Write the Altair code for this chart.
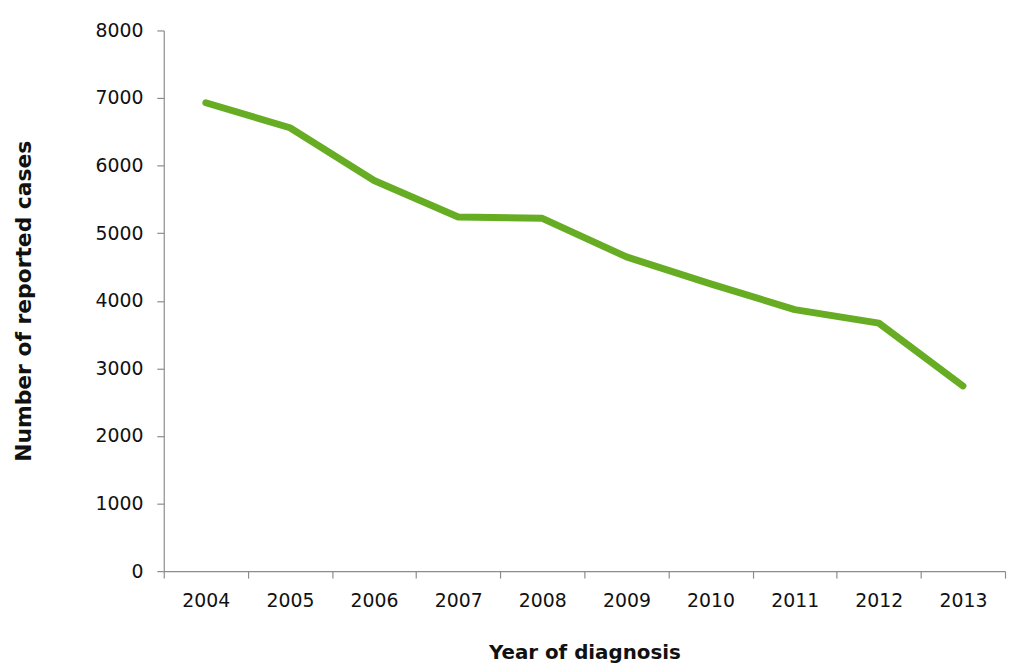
import altair as alt
import pandas as pd

years = ["2004", "2005", "2006", "2007", "2008", "2009", "2010", "2011", "2012", "2013"]
cases = [6930, 6560, 5780, 5240, 5220, 4650, 4250, 3870, 3670, 2740]

df = pd.DataFrame({"year": years, "cases": cases})

chart = alt.Chart(df).mark_line(
    color="#67ad24", strokeWidth=7, strokeCap="round", strokeJoin="round"
).encode(
    x=alt.X("year:O", bandPosition=0.5,
            scale=alt.Scale(type="band", paddingInner=0, paddingOuter=0),
            axis=alt.Axis(title="Year of diagnosis", labelAngle=0, tickBand="extent",
                          labelPadding=14, titlePadding=32, titleFontSize=20)),
    y=alt.Y("cases:Q", scale=alt.Scale(domain=[0, 8000], nice=False),
            axis=alt.Axis(title="Number of reported cases", values=list(range(0, 8001, 1000)),
                          format="d", labelPadding=14, titlePadding=60, titleFontSize=22,
                          grid=False)),
).properties(
    width=848, height=545,
    autosize=alt.AutoSizeParams(type="none"),
    padding={"left": 157, "top": 20, "right": 2, "bottom": 95},
).configure_view(stroke=None).configure_axis(
    domainColor="#8c8c8c", tickColor="#8c8c8c", tickSize=7, domainWidth=1.2, tickWidth=1.2,
    labelFont="DejaVu Sans", labelFontSize=19, labelColor="#111111",
    titleFont="DejaVu Sans", titleFontWeight="bold", titleColor="#111111",
    grid=False,
)

chart.save("out.html", embed_options={"renderer": "svg", "actions": False})
